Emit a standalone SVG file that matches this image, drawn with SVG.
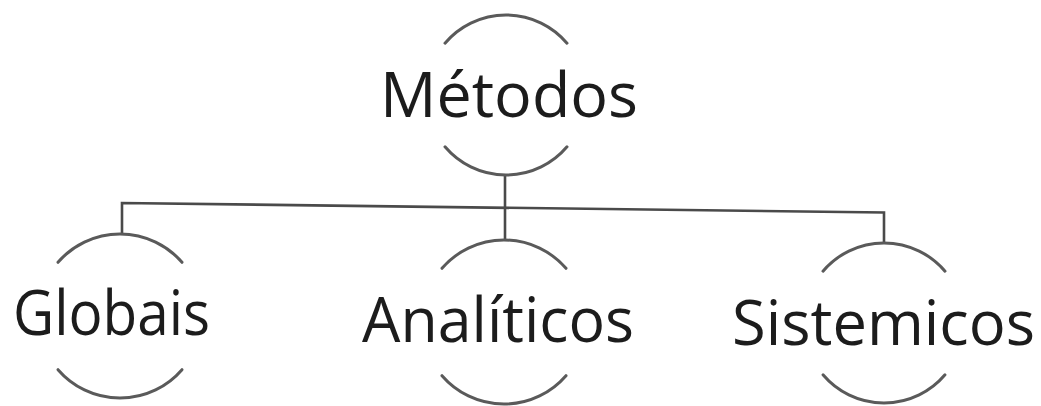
<svg xmlns="http://www.w3.org/2000/svg" width="1041" height="406" viewBox="0 0 1041 406">
<style>
.arc{fill:none;stroke:#5a5a5a;stroke-width:3;stroke-linecap:round}
.conn{fill:none;stroke:#4a4a4a;stroke-width:2.6}
.lbl{font-family:"Open Sans","Liberation Sans",sans-serif;font-size:62px;fill:#1c1c1c}
</style>
<rect width="1041" height="406" fill="#ffffff"/>
<g id="connectors">
<path class="conn" d="M505,175 V240"/>
<path class="conn" d="M122,234 V203 L884,212.5 V243"/>
</g>
<g id="node-metodos">
<path class="arc" d="M445,43.2 A80,80 0 0 1 567,43.2"/>
<path class="arc" d="M445,146.8 A80,80 0 0 0 567,146.8"/>
<text class="lbl" x="380" y="117" textLength="258" lengthAdjust="spacingAndGlyphs">Métodos</text>
</g>
<g id="node-globais">
<path class="arc" d="M58,262.3 A82,82 0 0 1 182,262.3"/>
<path class="arc" d="M58,369.7 A82,82 0 0 0 182,369.7"/>
<text class="lbl" x="13" y="335" textLength="197" lengthAdjust="spacingAndGlyphs">Globais</text>
</g>
<g id="node-analiticos">
<path class="arc" d="M442,268.3 A82,82 0 0 1 566,268.3"/>
<path class="arc" d="M442,375.7 A82,82 0 0 0 566,375.7"/>
<text class="lbl" x="362" y="342" textLength="272" lengthAdjust="spacingAndGlyphs">Analíticos</text>
</g>
<g id="node-sistemicos">
<path class="arc" d="M823,271.2 A80,80 0 0 1 945,271.2"/>
<path class="arc" d="M823,374.8 A80,80 0 0 0 945,374.8"/>
<text class="lbl" x="732" y="345" textLength="303" lengthAdjust="spacingAndGlyphs">Sistemicos</text>
</g>
</svg>
